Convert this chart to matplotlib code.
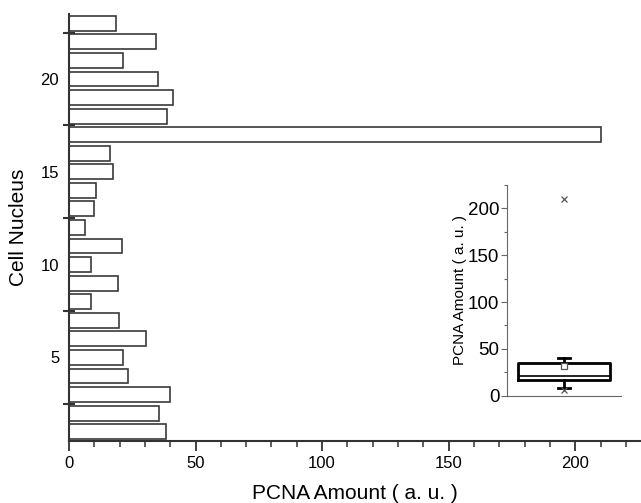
import numpy as np
import matplotlib
matplotlib.use("Agg")
import matplotlib.pyplot as plt
from matplotlib.ticker import MultipleLocator, FixedLocator

plt.rcParams["font.family"] = ["Liberation Sans", "DejaVu Sans"]

nucleus = np.arange(1, 24)
pcna = [38.2, 35.6, 39.9, 23.5, 21.2, 30.4, 19.9, 8.6, 19.4, 8.7,
        20.8, 6.3, 9.9, 10.5, 17.3, 16.1, 210.1, 38.9, 41.2, 35.3,
        21.5, 34.3, 18.4]

fig = plt.figure(figsize=(6.41, 5.03), dpi=100)
ax = fig.add_axes([0.1076, 0.1233, 0.8924, 0.8489])

ax.barh(nucleus, pcna, height=0.8, color="white", edgecolor="#3a3a3a", linewidth=1.2)
ax.set_xlim(0, 226)
ax.set_ylim(0.5, 23.5)

for side in ("top", "right"):
    ax.spines[side].set_visible(False)
for side in ("left", "bottom"):
    ax.spines[side].set_color("#333333")
    ax.spines[side].set_linewidth(1.5)

ax.xaxis.set_major_locator(MultipleLocator(50))
ax.xaxis.set_minor_locator(MultipleLocator(10))
ax.tick_params(axis="x", which="major", direction="out", length=7, width=1.3,
               color="#333333", labelsize=12, pad=4)
ax.tick_params(axis="x", which="minor", direction="out", length=4, width=1.1, color="#333333")

ax.yaxis.set_major_locator(FixedLocator([5, 10, 15, 20]))
ax.yaxis.set_minor_locator(FixedLocator([2.5, 7.5, 12.5, 17.5, 22.5]))
ax.tick_params(axis="y", which="major", length=0, labelsize=12, pad=7)
ax.tick_params(axis="y", which="minor", direction="inout", length=9, width=1.5, color="#333333")

ax.set_xlabel("PCNA Amount ( a. u. )", fontsize=15, labelpad=9)
ax.set_ylabel("Cell Nucleus", fontsize=15, labelpad=9)

# inset box chart
ins = fig.add_axes([0.791, 0.2133, 0.178, 0.4189])
vals = np.array(pcna)
ins.boxplot(vals, positions=[1], widths=0.8, whis=(5, 95), showfliers=False,
            showmeans=True, capwidths=0.11,
            boxprops=dict(color="black", linewidth=2),
            medianprops=dict(color="black", linewidth=1.2),
            whiskerprops=dict(color="black", linewidth=2),
            capprops=dict(color="black", linewidth=2),
            meanprops=dict(marker="s", markersize=4.5, markerfacecolor="white",
                           markeredgecolor="#555555", markeredgewidth=0.9))
ins.plot([1, 1], [vals.min(), vals.max()], linestyle="none", marker="x",
         markersize=4, color="#555555", markeredgewidth=0.9)
ins.set_xlim(0.5, 1.5)
ins.set_ylim(0, 225)
ins.set_xticks([])
ins.yaxis.set_major_locator(MultipleLocator(50))
ins.yaxis.set_minor_locator(MultipleLocator(25))
ins.tick_params(axis="y", which="major", direction="out", length=4, width=0.8,
                color="#666666", labelsize=13.5, pad=1.5)
ins.tick_params(axis="y", which="minor", direction="out", length=2.5, width=0.8, color="#666666")
for side in ("top", "right"):
    ins.spines[side].set_visible(False)
for side in ("left", "bottom"):
    ins.spines[side].set_color("#666666")
    ins.spines[side].set_linewidth(0.8)
ins.set_ylabel("PCNA Amount ( a. u. )", fontsize=11, labelpad=1)

fig.savefig("out.png", dpi=100)
